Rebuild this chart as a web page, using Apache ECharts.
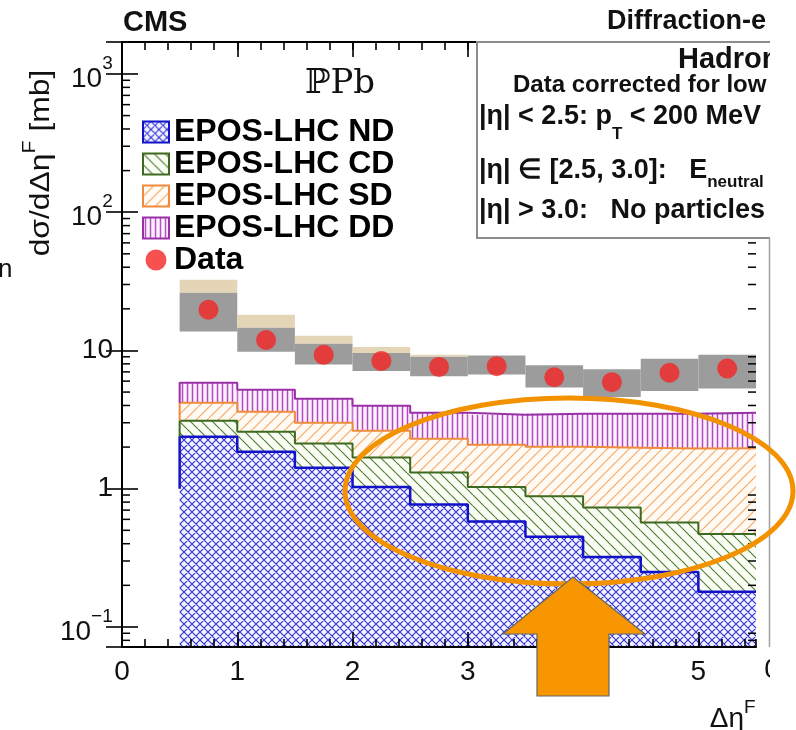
<!DOCTYPE html>
<html>
<head>
<meta charset="utf-8">
<title>CMS dsigma/dDeltaEta</title>
<script src="https://cdn.jsdelivr.net/npm/echarts@6/dist/echarts.min.js"></script>
<style>
  html, body { margin: 0; padding: 0; background: #fff; }
  #chart { width: 796px; height: 730px; }
</style>
</head>
<body>
<div id="chart"></div>
<script>
// bins in delta-eta^F
const binLow  = [0.5, 1.0, 1.5, 2.0, 2.5, 3.0, 3.5, 4.0, 4.5, 5.0];
const binHigh = [1.0, 1.5, 2.0, 2.5, 3.0, 3.5, 4.0, 4.5, 5.0, 5.5];
const binMid  = [0.75, 1.25, 1.75, 2.25, 2.75, 3.25, 3.75, 4.25, 4.75, 5.25];

// measured cross section (mb) and its bands
const dataY     = [19.7, 11.9, 9.3, 8.4, 7.6, 7.7, 6.4, 5.9, 6.9, 7.4];
const sysLow    = [13.7, 9.8, 7.9, 7.1, 6.5, 6.7, 5.4, 4.6, 5.1, 5.3];
const sysHigh   = [26.1, 14.6, 11.2, 9.6, 9.0, 9.2, 7.8, 7.3, 8.7, 9.3];
const modelHigh = [32.5, 18.1, 12.8, 10.6, 9.3, 9.2, 7.8, 7.3, 8.7, 9.3];

// EPOS-LHC per process (mb), stacked ND -> CD -> SD -> DD
const eposND = [2.38, 1.85, 1.42, 1.03, 0.77, 0.58, 0.45, 0.32, 0.25, 0.18];
const eposCD = [0.72, 0.73, 0.70, 0.65, 0.54, 0.45, 0.43, 0.41, 0.32, 0.29];
const eposSD = [1.09, 1.02, 0.88, 0.95, 0.99, 1.05, 1.13, 1.25, 1.38, 1.49];
const eposDD = [1.65, 1.60, 1.48, 1.35, 1.24, 1.35, 1.48, 1.51, 1.54, 1.59];

const xMin = 0, xMax = 5.5;
const yMin = 0.0716, yMax = 1703;
const FONT = 'Liberation Sans';

// hatch patterns like ROOT fill styles
function hatch(size, bg, color, width, draw) {
  const c = document.createElement('canvas');
  c.width = size; c.height = size;
  const ctx = c.getContext('2d');
  ctx.fillStyle = bg;
  ctx.fillRect(0, 0, size, size);
  ctx.strokeStyle = color;
  ctx.lineWidth = width;
  ctx.beginPath();
  draw(ctx, size);
  ctx.stroke();
  return { image: c, repeat: 'repeat' };
}
const back = (ctx, s) => { for (let k = -1; k <= 1; k++) { ctx.moveTo(k * s, 0); ctx.lineTo(k * s + s, s); } };
const fwd = (ctx, s) => { for (let k = -1; k <= 1; k++) { ctx.moveTo(k * s, s); ctx.lineTo(k * s + s, 0); } };
const cross = (ctx, s) => { back(ctx, s); fwd(ctx, s); };
const vert = (ctx, s) => { ctx.moveTo(s / 2, 0); ctx.lineTo(s / 2, s); };

const layerDefs = [
  { name: 'EPOS-LHC ND', vals: eposND, fill: hatch(8, '#f3f3ff', '#3030d8', 1.1, cross), line: '#1212c8', lw: 2.5 },
  { name: 'EPOS-LHC CD', vals: eposCD, fill: hatch(11, '#fafdf4', '#557f38', 1.2, back), line: '#3c6a1e', lw: 2 },
  { name: 'EPOS-LHC SD', vals: eposSD, fill: hatch(11, '#fffaf3', '#f2aa6a', 1.2, fwd), line: '#f08a3c', lw: 2 },
  { name: 'EPOS-LHC DD', vals: eposDD, fill: hatch(5, '#fbf0fb', '#b04cc0', 1.5, vert), line: '#9a30a8', lw: 2 }
];

const series = [];
let sum = binLow.map(() => 0);
layerDefs.forEach((d, k) => {
  const lo = k === 0 ? binLow.map(() => yMin) : sum.slice();
  const hi = sum.map((s, i) => s + d.vals[i]);
  sum = hi;
  series.push({
    type: 'custom',
    name: d.name,
    coordinateSystem: 'cartesian2d',
    silent: true,
    z: 2,
    itemStyle: { color: d.fill },
    data: binLow.map((x, i) => [x, binHigh[i], lo[i], hi[i]]),
    encode: { x: [0, 1], y: [2, 3] },
    renderItem: (params, api) => {
      const a = api.coord([api.value(0), api.value(3)]);
      const b = api.coord([api.value(1), api.value(2)]);
      return {
        type: 'rect',
        shape: { x: a[0], y: a[1], width: b[0] - a[0], height: b[1] - a[1] },
        style: { fill: d.fill }
      };
    }
  });
  // histogram outline
  const last = binLow.length - 1;
  series.push({
    type: 'line',
    step: 'end',
    symbol: 'none',
    silent: true,
    z: 4,
    lineStyle: { color: d.line, width: d.lw },
    data: [[binLow[0], k === 0 ? 1 : lo[0]]]
      .concat(binLow.map((x, i) => [x, hi[i]]))
      .concat([[binHigh[last], hi[last]]])
  });
});

// uncertainty bands behind the data points
series.push({
  type: 'custom',
  coordinateSystem: 'cartesian2d',
  silent: true,
  z: 5,
  data: binLow.map((x, i) => [x, binHigh[i], sysLow[i], sysHigh[i], modelHigh[i]]),
  encode: { x: [0, 1], y: [2, 4] },
  renderItem: (params, api) => {
    const x0 = api.value(0), x1 = api.value(1);
    const a = api.coord([x0, api.value(3)]);
    const b = api.coord([x1, api.value(2)]);
    const m = api.coord([x0, api.value(4)]);
    return {
      type: 'group',
      children: [
        { type: 'rect', shape: { x: m[0], y: m[1], width: b[0] - a[0], height: a[1] - m[1] }, style: { fill: '#e4d5b6' } },
        { type: 'rect', shape: { x: a[0], y: a[1], width: b[0] - a[0], height: b[1] - a[1] }, style: { fill: '#9c9c9c' } }
      ]
    };
  }
});

series.push({
  type: 'scatter',
  name: 'Data',
  symbol: 'circle',
  symbolSize: 20,
  z: 6,
  itemStyle: { color: '#f52424' },
  data: binMid.map((x, i) => [x, dataY[i]])
});

// minor ticks of the log axis (2..9 in each decade), left and right frame
const minorVals = [];
for (let e = -2; e <= 3; e++) {
  for (let m = 2; m <= 9; m++) {
    const v = m * Math.pow(10, e);
    if (v > yMin && v < yMax) minorVals.push(v);
  }
}
series.push({
  type: 'custom',
  coordinateSystem: 'cartesian2d',
  silent: true,
  z: 10,
  data: minorVals.map(v => [xMin, v]),
  renderItem: (params, api) => {
    const cs = params.coordSys;
    const y = api.coord([xMin, api.value(1)])[1];
    const st = { stroke: '#000', lineWidth: 1.5 };
    return {
      type: 'group',
      children: [
        { type: 'line', shape: { x1: cs.x, y1: y, x2: cs.x + 8, y2: y }, style: st },
        { type: 'line', shape: { x1: cs.x + cs.width, y1: y, x2: cs.x + cs.width - 8, y2: y }, style: st }
      ]
    };
  }
});

const tickLine = { color: '#000', width: 1.6 };
function xAx(pos, interval, len, showLine, showLabel) {
  return {
    type: 'value', min: xMin, max: xMax, interval: interval, position: pos, z: 10,
    axisLine: { show: showLine, onZero: false, lineStyle: { color: '#000', width: 2 } },
    axisTick: { inside: true, length: len, lineStyle: tickLine },
    axisLabel: { show: showLabel, fontFamily: FONT, fontSize: 28, color: '#111', margin: 11, showMaxLabel: false },
    splitLine: { show: false }
  };
}

function logLabel(v) {
  const l = Math.log10(v);
  const e = Math.round(l);
  if (Math.abs(l - e) > 1e-6) return '';
  if (e === 0) return '{b|1}';
  if (e === 1) return '{b|10}';
  return '{b|10}{s|' + (e < 0 ? '\u2212' + (-e) : e) + '}{z| }';
}
function yAx(pos, showLabel) {
  return {
    type: 'log', logBase: 10, min: yMin, max: yMax, position: pos, z: 10,
    axisLine: { show: true, lineStyle: { color: '#000', width: 2 } },
    axisTick: { inside: true, length: 16, lineStyle: tickLine },
    minorTick: { show: false },
    splitLine: { show: false },
    axisLabel: {
      show: showLabel, margin: 9, formatter: logLabel, fontFamily: FONT, fontSize: 28, color: '#111',
      rich: {
        b: { fontFamily: FONT, fontSize: 28, color: '#111', lineHeight: 28, verticalAlign: 'bottom' },
        s: { fontFamily: FONT, fontSize: 19, color: '#111', lineHeight: 19, verticalAlign: 'top' },
        z: { fontSize: 1, lineHeight: 39 }
      }
    }
  };
}

function txt(text, x, y, st, extra) {
  return Object.assign({
    type: 'text', z: 52, silent: true,
    style: Object.assign({ text: text, x: x, y: y, fill: '#111', fontFamily: FONT, fontSize: 27,
      fontWeight: 'bold', align: 'left', verticalAlign: 'middle' }, st)
  }, extra || {});
}
const subRich = (L) => ({
  b: { fontFamily: FONT, fontSize: 27, fontWeight: 'bold', fill: '#111', lineHeight: 27, verticalAlign: 'top' },
  sub: { fontFamily: FONT, fontSize: 17, fontWeight: 'bold', fill: '#111', lineHeight: 17, verticalAlign: 'bottom' },
  z: { fontSize: 1, lineHeight: L }
});
const supRich = (size, L) => ({
  b: { fontFamily: FONT, fontSize: size, fill: '#111', lineHeight: size, verticalAlign: 'bottom' },
  s: { fontFamily: FONT, fontSize: Math.round(size * 0.68), fill: '#111', lineHeight: size, verticalAlign: 'top' },
  z: { fontSize: 1, lineHeight: L }
});

// y title built from pieces so the superscript sits right after the base text
const meas = document.createElement('canvas').getContext('2d');
function textWidth(s, size) {
  meas.font = size + 'px "' + FONT + '"';
  return meas.measureText(s).width;
}
const yT1 = 'd\u03c3/d\u0394\u03b7', yT2 = 'F', yT3 = ' [mb]';
const w1 = textWidth(yT1, 27), w2 = textWidth(yT2, 18), w3 = textWidth(yT3, 27);
const y0 = -(w1 + w2 + w3) / 2;
const yTitle = {
  type: 'group', x: 42, y: 163, rotation: Math.PI / 2, scaleX: 1.18, z: 52, silent: true,
  children: [
    txt(yT1, y0, 0, { fontSize: 27, fontWeight: 'normal' }),
    txt(yT2, y0 + w1, -12, { fontSize: 18, fontWeight: 'normal' }),
    txt(yT3, y0 + w1 + w2, 0, { fontSize: 27, fontWeight: 'normal' })
  ]
};

const graphic = [
  txt('CMS', 123, 23, { fontSize: 29 }),
  txt('Diffraction-e', 607, 22, { fontSize: 27 }),
  txt('n', -2, 270, { fontSize: 26, fontWeight: 'normal' }),
  txt('\u2119Pb', 340, 84, { fontFamily: 'DejaVu Serif', fontSize: 34, fontWeight: 'normal', align: 'center' }),
  yTitle,
  // x title
  txt('{b|\u0394\u03b7}{s|F}{z| }', 756, 716, { align: 'right', fontWeight: 'normal', fontSize: 28, rich: supRich(28, 35) }),
  // label of the neighbouring panel, cut by the crop
  txt('0', 772, 670, { fontSize: 28, fontWeight: 'normal', align: 'center' }),
  // selection box
  { type: 'rect', z: 50, silent: true, shape: { x: 477, y: 42, width: 400, height: 196 },
    style: { fill: '#fff', stroke: '#8c8c8c', lineWidth: 2 } },
  txt('Hadron', 678, 60, { fontSize: 29 }),
  txt('Data corrected for low', 513, 85, { fontSize: 24 }),
  txt('{b||\u03b7| < 2.5: p}{sub|T}{b| < 200 MeV}{z| }', 479, 123, { rich: subRich(40) }),
  txt('{b||\u03b7| \u2208 [2.5, 3.0]:   E}{sub|neutral}{z| }', 479, 174, { rich: subRich(34) }),
  txt('|\u03b7| > 3.0:   No particles', 479, 211, {}),
  // crop of the original figure
  { type: 'rect', z: 60, silent: true, shape: { x: 770, y: 0, width: 40, height: 730 }, style: { fill: '#fff' } },
  { type: 'line', z: 61, silent: true, shape: { x1: 769.5, y1: 238, x2: 769.5, y2: 647 },
    style: { stroke: '#a0a0a0', lineWidth: 1.5 } },
  // highlight annotation
  { type: 'ellipse', z: 70, silent: true, shape: { cx: 569, cy: 491, rx: 224, ry: 93 },
    style: { fill: 'none', stroke: '#f39200', lineWidth: 5 } },
  { type: 'polygon', z: 71, silent: true,
    shape: { points: [[573, 577], [645, 634], [609, 634], [609, 696], [537, 696], [537, 634], [503, 634]] },
    style: { fill: '#f79600', stroke: '#666', lineWidth: 1.2 } }
];

const chart = echarts.init(document.getElementById('chart'));
chart.setOption({
  animation: false,
  backgroundColor: '#fff',
  grid: { left: 122, right: 40, top: 42, bottom: 83 },
  xAxis: [
    xAx('bottom', 1, 15, true, true),
    xAx('bottom', 0.2, 8, false, false),
    xAx('top', 1, 15, true, false),
    xAx('top', 0.2, 8, false, false)
  ],
  yAxis: [yAx('left', true), yAx('right', false)],
  legend: {
    orient: 'vertical', left: 142, top: 116, padding: 0,
    itemWidth: 26, itemHeight: 21, itemGap: 0,
    selectedMode: false,
    textStyle: { fontFamily: FONT, fontWeight: 'bold', fontSize: 32, color: '#000', lineHeight: 32 },
    data: layerDefs.map(d => ({
      name: d.name, icon: 'rect',
      itemStyle: { color: d.fill, borderColor: d.line, borderWidth: 2 }
    })).concat([{ name: 'Data', icon: 'circle', itemStyle: { color: '#f52424', borderWidth: 0 } }])
  },
  series: series,
  graphic: graphic
});
</script>
</body>
</html>
